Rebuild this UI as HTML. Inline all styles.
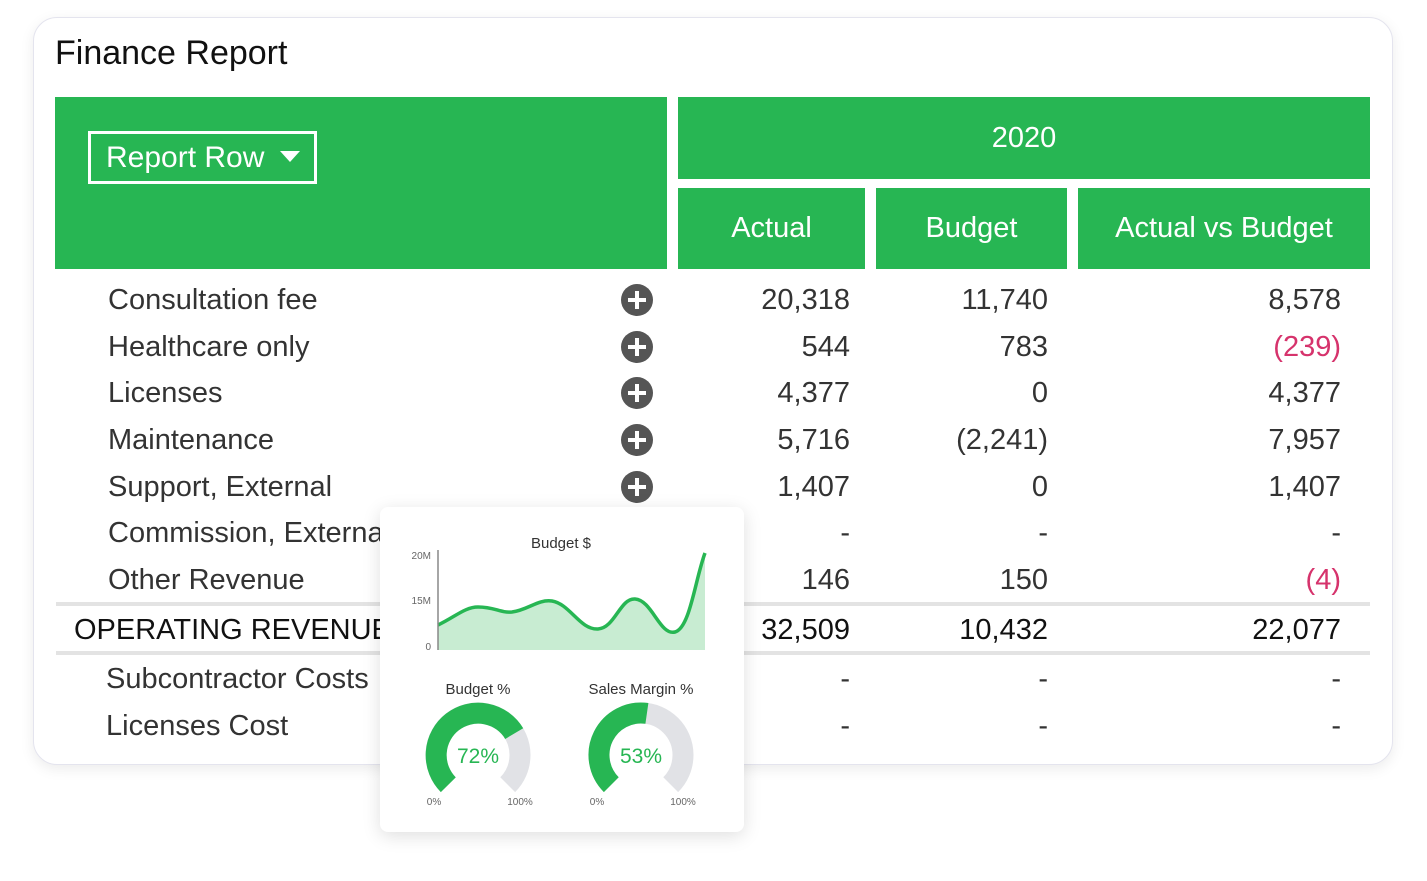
<!DOCTYPE html>
<html><head><meta charset="utf-8"><style>
body{margin:0;width:1427px;height:881px;background:#fff;font-family:"Liberation Sans",sans-serif;position:relative;overflow:hidden}
.a{position:absolute}
.card{left:33px;top:17px;width:1358px;height:746px;border:1px solid #e4e4ee;border-radius:24px;box-shadow:0 4px 14px rgba(0,0,0,0.08);background:#fff}
.g{background:#27b653;color:#fff;font-size:29px;display:flex;align-items:center;justify-content:center}
.t{font-size:29px;color:#333;height:36px;line-height:36px;white-space:nowrap}
.n{text-align:right;width:200px}
.p{width:32px;height:32px;border-radius:50%;background:#555;left:621px;color:#fff}
.p:before{content:"";position:absolute;left:7px;top:14px;width:18px;height:4px;background:#fff}
.p:after{content:"";position:absolute;left:14px;top:7px;width:4px;height:18px;background:#fff}
.red{color:#d6336c}
.line{left:56px;width:1314px;height:4px;background:#e3e3e3}
</style></head><body>
<div class="a card"></div>
<div class="a" style="left:55px;top:34px;font-size:34px;color:#111">Finance Report</div>
<div class="a g" style="left:55px;top:97px;width:612px;height:172px"></div>
<div class="a" style="left:88px;top:131px;width:229px;height:53px;border:3px solid #fff;color:#fff;font-size:30px;line-height:48px;box-sizing:border-box;padding-left:15px">Report Row</div>
<div class="a" style="left:280px;top:151px;width:0;height:0;border-left:10px solid transparent;border-right:10px solid transparent;border-top:11px solid #fff"></div>
<div class="a g" style="left:678px;top:97px;width:692px;height:82px">2020</div>
<div class="a g" style="left:678px;top:188px;width:187px;height:81px">Actual</div>
<div class="a g" style="left:876px;top:188px;width:191px;height:81px">Budget</div>
<div class="a g" style="left:1078px;top:188px;width:292px;height:81px">Actual vs Budget</div>

<div class="a t" style="left:108px;top:282px">Consultation fee</div>
<div class="a t" style="left:108px;top:329px">Healthcare only</div>
<div class="a t" style="left:108px;top:375px">Licenses</div>
<div class="a t" style="left:108px;top:422px">Maintenance</div>
<div class="a t" style="left:108px;top:469px">Support, External</div>
<div class="a t" style="left:108px;top:515px">Commission, External</div>
<div class="a t" style="left:108px;top:562px">Other Revenue</div>
<div class="a t" style="left:74px;top:612px;color:#111">OPERATING REVENUE</div>
<div class="a t" style="left:106px;top:661px">Subcontractor Costs</div>
<div class="a t" style="left:106px;top:708px">Licenses Cost</div>

<div class="a p" style="top:284px"></div><div class="a p" style="top:331px"></div><div class="a p" style="top:377px"></div><div class="a p" style="top:424px"></div><div class="a p" style="top:471px"></div>

<div class="a t n" style="left:650px;top:282px">20,318</div><div class="a t n" style="left:848px;top:282px">11,740</div><div class="a t n" style="left:1141px;top:282px">8,578</div>
<div class="a t n" style="left:650px;top:329px">544</div><div class="a t n" style="left:848px;top:329px">783</div><div class="a t n red" style="left:1141px;top:329px">(239)</div>
<div class="a t n" style="left:650px;top:375px">4,377</div><div class="a t n" style="left:848px;top:375px">0</div><div class="a t n" style="left:1141px;top:375px">4,377</div>
<div class="a t n" style="left:650px;top:422px">5,716</div><div class="a t n" style="left:848px;top:422px">(2,241)</div><div class="a t n" style="left:1141px;top:422px">7,957</div>
<div class="a t n" style="left:650px;top:469px">1,407</div><div class="a t n" style="left:848px;top:469px">0</div><div class="a t n" style="left:1141px;top:469px">1,407</div>
<div class="a t n" style="left:650px;top:515px">-</div><div class="a t n" style="left:848px;top:515px">-</div><div class="a t n" style="left:1141px;top:515px">-</div>
<div class="a t n" style="left:650px;top:562px">146</div><div class="a t n" style="left:848px;top:562px">150</div><div class="a t n red" style="left:1141px;top:562px">(4)</div>
<div class="a line" style="top:602px"></div>
<div class="a t n" style="left:650px;top:612px;color:#111">32,509</div><div class="a t n" style="left:848px;top:612px;color:#111">10,432</div><div class="a t n" style="left:1141px;top:612px;color:#111">22,077</div>
<div class="a line" style="top:651px"></div>
<div class="a t n" style="left:650px;top:661px">-</div><div class="a t n" style="left:848px;top:661px">-</div><div class="a t n" style="left:1141px;top:661px">-</div>
<div class="a t n" style="left:650px;top:708px">-</div><div class="a t n" style="left:848px;top:708px">-</div><div class="a t n" style="left:1141px;top:708px">-</div>

<div class="a" style="left:380px;top:507px;width:364px;height:325px;background:#fff;border-radius:8px;box-shadow:0 4px 18px rgba(0,0,0,0.13)"></div>
<svg class="a" style="left:0;top:0" width="1427" height="881" font-family="Liberation Sans, sans-serif">
<text x="561" y="548" font-size="15" fill="#333" text-anchor="middle">Budget $</text>
<text x="431" y="559" font-size="10" fill="#666" text-anchor="end">20M</text>
<text x="431" y="604" font-size="10" fill="#666" text-anchor="end">15M</text>
<text x="431" y="650" font-size="10" fill="#666" text-anchor="end">0</text>
<path d="M438,625 C455,617 465,607 478,607 C495,607 500,613 512,612 C528,610 538,599 552,601 C570,604 580,630 598,629 C615,628 620,598 635,599 C652,600 660,636 675,632 C690,628 695,580 705,553 L705,650 L438,650 Z" fill="#c8ecd2"/>
<path d="M438,625 C455,617 465,607 478,607 C495,607 500,613 512,612 C528,610 538,599 552,601 C570,604 580,630 598,629 C615,628 620,598 635,599 C652,600 660,636 675,632 C690,628 695,580 705,553" fill="none" stroke="#27b653" stroke-width="3.5"/>
<line x1="438" y1="550" x2="438" y2="650" stroke="#888" stroke-width="1.5"/>
<text x="478" y="694" font-size="15" fill="#333" text-anchor="middle">Budget %</text>
<text x="641" y="694" font-size="15" fill="#333" text-anchor="middle">Sales Margin %</text>
<g fill="none" stroke-width="21">
<path d="M448.3,784.7 A42,42 0 1 1 507.7,784.7" stroke="#e1e2e6"/>
<path d="M448.3,784.7 A42,42 0 1 1 514.2,733.6" stroke="#27b653"/>
<path d="M611.3,784.7 A42,42 0 1 1 670.7,784.7" stroke="#e1e2e6"/>
<path d="M611.3,784.7 A42,42 0 0 1 646.9,713.4" stroke="#27b653"/>
</g>
<text x="478" y="763" font-size="21" fill="#27b653" text-anchor="middle">72%</text>
<text x="641" y="763" font-size="21" fill="#27b653" text-anchor="middle">53%</text>
<text x="434" y="805" font-size="10" fill="#666" text-anchor="middle">0%</text>
<text x="520" y="805" font-size="10" fill="#666" text-anchor="middle">100%</text>
<text x="597" y="805" font-size="10" fill="#666" text-anchor="middle">0%</text>
<text x="683" y="805" font-size="10" fill="#666" text-anchor="middle">100%</text>
</svg>
</body></html>
